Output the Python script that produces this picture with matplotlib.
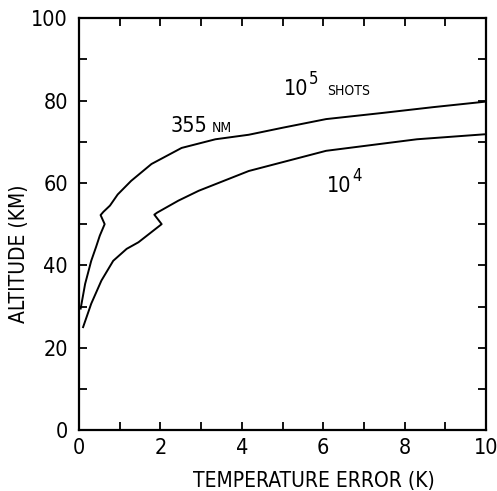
#!/usr/bin/env python3
"""
Temperature error vs altitude, 355 nm, 1e5 and 1e4 shots
"""
import numpy as np
import matplotlib
matplotlib.use('Agg')
import matplotlib.pyplot as plt
from matplotlib.ticker import MultipleLocator

plt.rcParams['font.family'] = ['DejaVu Sans']
plt.rcParams['font.stretch'] = 'condensed'

# ── Data ────────────────────────────────────────────────────────────────────
# 10^5 shots
t_1e5 = [0.04, 0.15, 0.30, 0.42, 0.51, 0.63, 0.53, 0.60, 0.76, 0.95, 1.28,
         1.78, 2.52, 3.35, 4.17, 5.00, 6.07, 7.46, 8.70, 9.95]
z_1e5 = [29.5, 35.5, 41.1, 44.5, 47.2, 50.0, 52.2, 53.0, 54.5, 57.2, 60.5,
         64.6, 68.5, 70.6, 71.7, 73.4, 75.5, 77.0, 78.4, 79.7]
# 10^4 shots
t_1e4 = [0.10, 0.30, 0.55, 0.84, 1.17, 1.46, 2.03, 1.85, 1.92, 2.44, 2.94,
         4.17, 6.07, 8.30, 9.95]
z_1e4 = [25.0, 30.7, 36.3, 41.1, 44.0, 45.6, 50.0, 52.3, 52.8, 55.7, 58.1,
         62.9, 67.8, 70.6, 71.8]

xticks = [0, 2, 4, 6, 8, 10]
yticks = [0, 20, 40, 60, 80, 100]

# ── Plot ────────────────────────────────────────────────────────────────────
fig = plt.figure(figsize=(4.97, 4.91), dpi=100)
ax = fig.add_axes([0.159, 0.124, 0.819, 0.839])

ax.plot(t_1e5, z_1e5, color='black', lw=1.4)
ax.plot(t_1e4, z_1e4, color='black', lw=1.4)

ax.set_xlim(0, 10)
ax.set_ylim(0, 100)
ax.set_xticks(xticks)
ax.set_yticks(yticks)
ax.xaxis.set_minor_locator(MultipleLocator(1))
ax.yaxis.set_minor_locator(MultipleLocator(10))
for which in ('major', 'minor'):
    ax.tick_params(which=which, direction='in', length=6, width=1.3,
                   top=True, right=True, labelsize=15.5, pad=6)
ax.tick_params(axis='y', pad=8)
for s in ax.spines.values():
    s.set_linewidth(1.6)

ax.set_xlabel('TEMPERATURE ERROR (K)', fontsize=15, va='center', ha='center')
ax.set_ylabel('ALTITUDE (KM)', fontsize=15, va='center', ha='center')
ax.xaxis.set_label_coords(0.577, -0.124)
ax.yaxis.set_label_coords(-0.147, 0.427)

# curve labels
ax.text(2.25, 72.3, '355', fontsize=15.5, ha='left', va='baseline')
ax.text(3.26, 72.3, 'NM', fontsize=10, ha='left', va='baseline')
t5 = ax.text(5.04, 81.3, '10', fontsize=15.5, ha='left', va='baseline')
ax.annotate('5', xy=(1, 0.55), xycoords=t5, xytext=(0, 0),
            textcoords='offset points', fontsize=12, va='bottom')
ax.text(6.1, 81.3, 'SHOTS', fontsize=10, ha='left', va='baseline')
t4 = ax.text(6.1, 57.8, '10', fontsize=15.5, ha='left', va='baseline')
ax.annotate('4', xy=(1, 0.55), xycoords=t4, xytext=(0, 0),
            textcoords='offset points', fontsize=12, va='bottom')

plt.savefig('out.png', dpi=100)
plt.close()
